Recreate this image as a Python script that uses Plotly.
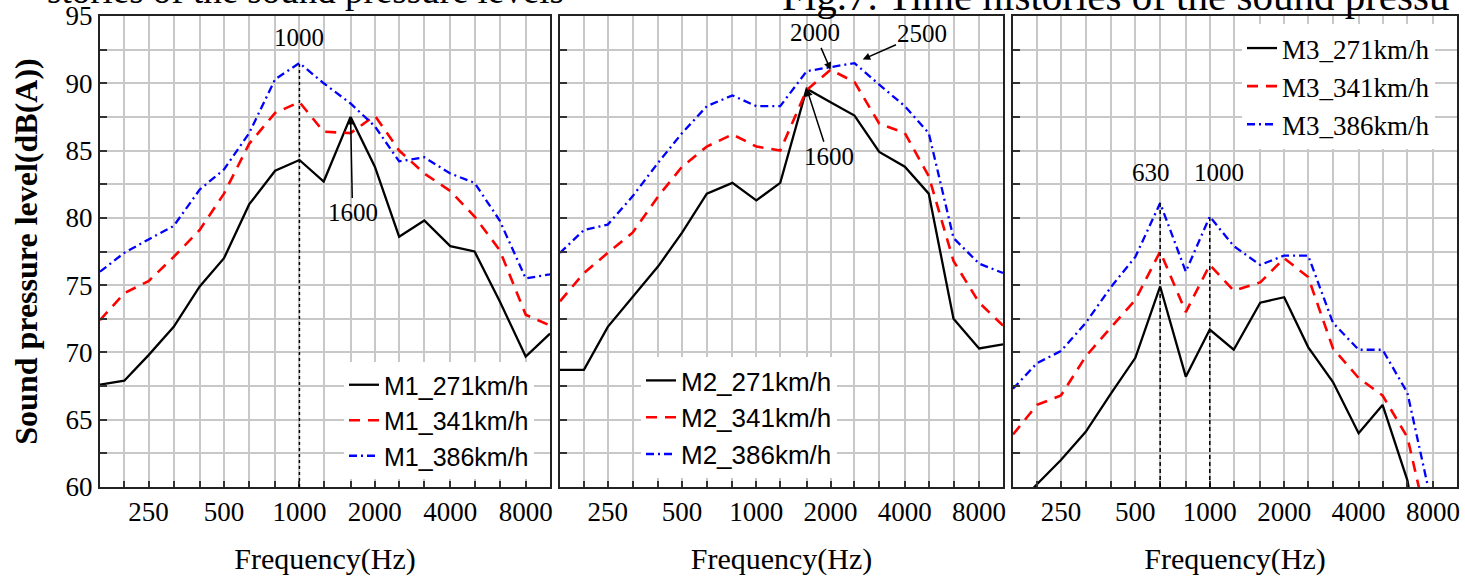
import math
import plotly.graph_objects as go

# ---------------- data ----------------
FREQ = [160, 200, 250, 315, 400, 500, 630, 800, 1000, 1250, 1600, 2000, 2500,
        3150, 4000, 5000, 6300, 8000, 10000]
X_LABELED = [250, 500, 1000, 2000, 4000, 8000]
Y_TICKS = [60 + 2.5 * i for i in range(15)]
Y_LABELED = [60, 65, 70, 75, 80, 85, 90, 95]

M1_271 = [67.6, 67.9, 69.8, 71.9, 74.9, 77.0, 81.0, 83.5, 84.3, 82.7, 87.5, 83.8, 78.6, 79.8, 77.9, 77.5, 73.8, 69.7, 71.4]
M1_341 = [72.4, 74.4, 75.3, 77.1, 79.1, 81.8, 85.5, 87.8, 88.6, 86.4, 86.3, 87.6, 85.0, 83.3, 82.0, 80.1, 77.6, 72.8, 72.0]
M1_386 = [76.0, 77.4, 78.4, 79.4, 82.1, 83.6, 86.3, 90.3, 91.5, 90.0, 88.5, 86.8, 84.2, 84.5, 83.3, 82.6, 79.8, 75.5, 75.8]

M2_271 = [68.7, 68.7, 71.9, 74.1, 76.4, 78.9, 81.8, 82.6, 81.3, 82.6, 89.6, 88.6, 87.6, 84.9, 83.8, 81.8, 72.5, 70.3, 70.6]
M2_341 = [73.8, 75.9, 77.4, 78.9, 81.6, 83.8, 85.3, 86.2, 85.3, 85.0, 89.5, 91.0, 90.1, 87.0, 86.3, 83.1, 76.8, 73.7, 72.0]
M2_386 = [77.4, 79.1, 79.5, 81.6, 84.1, 86.3, 88.3, 89.1, 88.3, 88.3, 90.9, 91.2, 91.5, 89.9, 88.3, 86.3, 78.5, 76.6, 75.9]

M3_271 = [58.3, 60.2, 62.0, 64.1, 67.0, 69.6, 74.9, 68.2, 71.7, 70.2, 73.7, 74.1, 70.4, 67.8, 64.0, 66.1, 60.5, 50.0, None]
M3_341 = [63.9, 66.1, 66.8, 69.7, 71.9, 73.9, 77.5, 73.0, 76.5, 74.6, 75.2, 77.0, 75.6, 70.3, 68.1, 66.8, 63.7, 55.4, None]
M3_386 = [67.3, 69.2, 70.1, 72.2, 74.9, 77.1, 81.1, 76.0, 80.1, 77.9, 76.5, 77.2, 77.2, 72.2, 70.2, 70.2, 67.0, 58.3, None]

PANELS = [
    ("M1", [M1_271, M1_341, M1_386]),
    ("M2", [M2_271, M2_341, M2_386]),
    ("M3", [M3_271, M3_341, M3_386]),
]
SPEEDS = ["271km/h", "341km/h", "386km/h"]

# ---------------- styling ----------------
W, H = 1465, 577
LINE_STYLES = [
    dict(color="#000000", width=2.3, dash="solid"),
    dict(color="#ff0000", width=2.6, dash="11px,8px"),
    dict(color="#0000ff", width=2.3, dash="8px,4px,2px,4px"),
]
SERIF = "Liberation Serif, Times New Roman, serif"
SANS = "Liberation Sans, Arial, sans-serif"

X_DOMAINS = [(100 / W, 550 / W), (560 / W, 1003 / W), (1013 / W, 1457 / W)]
Y_DOMAIN = (1 - 487 / H, 1 - 16 / H)

LEGENDS = [
    dict(x=344 / W, y=1 - 362 / H, font=dict(family=SANS, size=25, color="black")),
    dict(x=641 / W, y=1 - 357 / H, font=dict(family=SANS, size=26, color="black")),
    dict(x=1242 / W, y=1 - 24 / H, font=dict(family=SERIF, size=27, color="black")),
]

fig = go.Figure()

for p, (prefix, series) in enumerate(PANELS):
    xa = "x" if p == 0 else f"x{p + 1}"
    ya = "y" if p == 0 else f"y{p + 1}"
    lg = "legend" if p == 0 else f"legend{p + 1}"
    for s, vals in enumerate(series):
        fig.add_trace(go.Scatter(
            x=FREQ, y=vals, mode="lines", name=f"{prefix}_{SPEEDS[s]}",
            line=LINE_STYLES[s], xaxis=xa, yaxis=ya, legend=lg,
            connectgaps=False,
        ))

layout = dict(
    width=W, height=H,
    margin=dict(l=0, r=0, t=0, b=0),
    paper_bgcolor="white", plot_bgcolor="white",
    showlegend=True,
)

for p in range(3):
    xkey = "xaxis" if p == 0 else f"xaxis{p + 1}"
    ykey = "yaxis" if p == 0 else f"yaxis{p + 1}"
    yref = "y" if p == 0 else f"y{p + 1}"
    xref = "x" if p == 0 else f"x{p + 1}"
    layout[xkey] = dict(
        type="log", domain=X_DOMAINS[p], anchor=yref,
        range=[math.log10(FREQ[0]), math.log10(FREQ[-1])],
        tickmode="array", tickvals=FREQ,
        ticktext=[str(f) if f in X_LABELED else "" for f in FREQ],
        ticks="inside", ticklen=6, tickwidth=1.5, tickcolor="#333",
        showgrid=True, gridcolor="#c8c8c8", gridwidth=1.5,
        showline=True, linecolor="#222", linewidth=2, mirror=True,
        tickfont=dict(family=SERIF, size=27, color="black"),
        title=dict(text="Frequency(Hz)", font=dict(family=SERIF, size=30, color="black"), standoff=22),
        automargin=False, zeroline=False,
    )
    layout[ykey] = dict(
        domain=Y_DOMAIN, anchor=xref, range=[60, 95],
        tickmode="array", tickvals=Y_TICKS,
        ticktext=[(str(int(v)) if v in Y_LABELED else "") for v in Y_TICKS] if p == 0 else ["" for v in Y_TICKS],
        showticklabels=(p == 0),
        ticks="inside", ticklen=7, tickwidth=1.5, tickcolor="#333",
        showgrid=True, gridcolor="#c8c8c8", gridwidth=1.5,
        showline=True, linecolor="#222", linewidth=2, mirror=True,
        tickfont=dict(family=SERIF, size=27, color="black"),
        automargin=False, zeroline=False,
    )
    lgkey = "legend" if p == 0 else f"legend{p + 1}"
    layout[lgkey] = dict(
        x=LEGENDS[p]["x"], y=LEGENDS[p]["y"], xanchor="left", yanchor="top",
        bgcolor="white", borderwidth=0, font=LEGENDS[p]["font"],
        itemwidth=30, tracegroupgap=0,
    )

layout["yaxis"]["title"] = dict(text="<b>Sound pressure level(dB(A))</b>",
                                font=dict(family=SERIF, size=32, color="black"), standoff=18)

fig.update_layout(**layout)

# ---------------- annotations ----------------
ANN_FONT = dict(family=SERIF, size=25, color="black")
ARROW = dict(showarrow=True, arrowhead=2, arrowsize=1, arrowwidth=1.5, arrowcolor="black")


def val(series, f):
    return series[FREQ.index(f)]


def lx(f):
    # annotation positions on a log axis are given in log10 units
    return math.log10(f)


# panel 1
fig.add_shape(type="line", xref="x", yref="y", x0=1000, x1=1000, y0=60, y1=val(M1_386, 1000),
              line=dict(color="black", width=1.5, dash="dot"))
fig.add_annotation(xref="x", yref="y", x=lx(1000), y=val(M1_386, 1000), text="1000",
                   showarrow=False, yshift=26, font=ANN_FONT)
fig.add_annotation(xref="x", yref="y", x=lx(1600), y=val(M1_271, 1600), text="1600",
                   ax=2, ay=96, font=ANN_FONT, **ARROW)

# panel 2
fig.add_annotation(xref="x2", yref="y2", x=lx(2000), y=val(M2_341, 2000), text="2000",
                   ax=-16, ay=-37, font=ANN_FONT, **ARROW)
fig.add_annotation(xref="x2", yref="y2", x=lx(2500), y=val(M2_386, 2500), text="2500",
                   ax=68, ay=-30, standoff=9, font=ANN_FONT, **ARROW)
fig.add_annotation(xref="x2", yref="y2", x=lx(1600), y=val(M2_271, 1600), text="1600",
                   ax=22, ay=68, font=ANN_FONT, **ARROW)

# panel 3
top3 = max(val(M3_386, 630), val(M3_386, 1000))
for f, xs in ((630, -9), (1000, 9)):
    fig.add_shape(type="line", xref="x3", yref="y3", x0=f, x1=f, y0=60, y1=val(M3_386, f),
                  line=dict(color="black", width=1.5, dash="4px,3px"))
    fig.add_annotation(xref="x3", yref="y3", x=lx(f), y=top3, text=str(f), showarrow=False,
                       xshift=xs, yshift=31, font=ANN_FONT)

# clipped page text above the figure
fig.add_annotation(xref="paper", yref="paper", x=45 / W, y=1 + 9.5 / H, xanchor="left", yanchor="middle",
                   text="stories of the sound pressure levels", showarrow=False,
                   font=dict(family=SERIF, size=37, color="black"))
fig.add_annotation(xref="paper", yref="paper", x=780 / W, y=1 + 4 / H, xanchor="left", yanchor="middle",
                   text="Fig.7. Time histories of the sound pressu", showarrow=False,
                   font=dict(family=SERIF, size=41, color="black"))

fig.write_html("out.html", config={"displayModeBar": False},
               post_script="document.body.style.margin='0px';")
